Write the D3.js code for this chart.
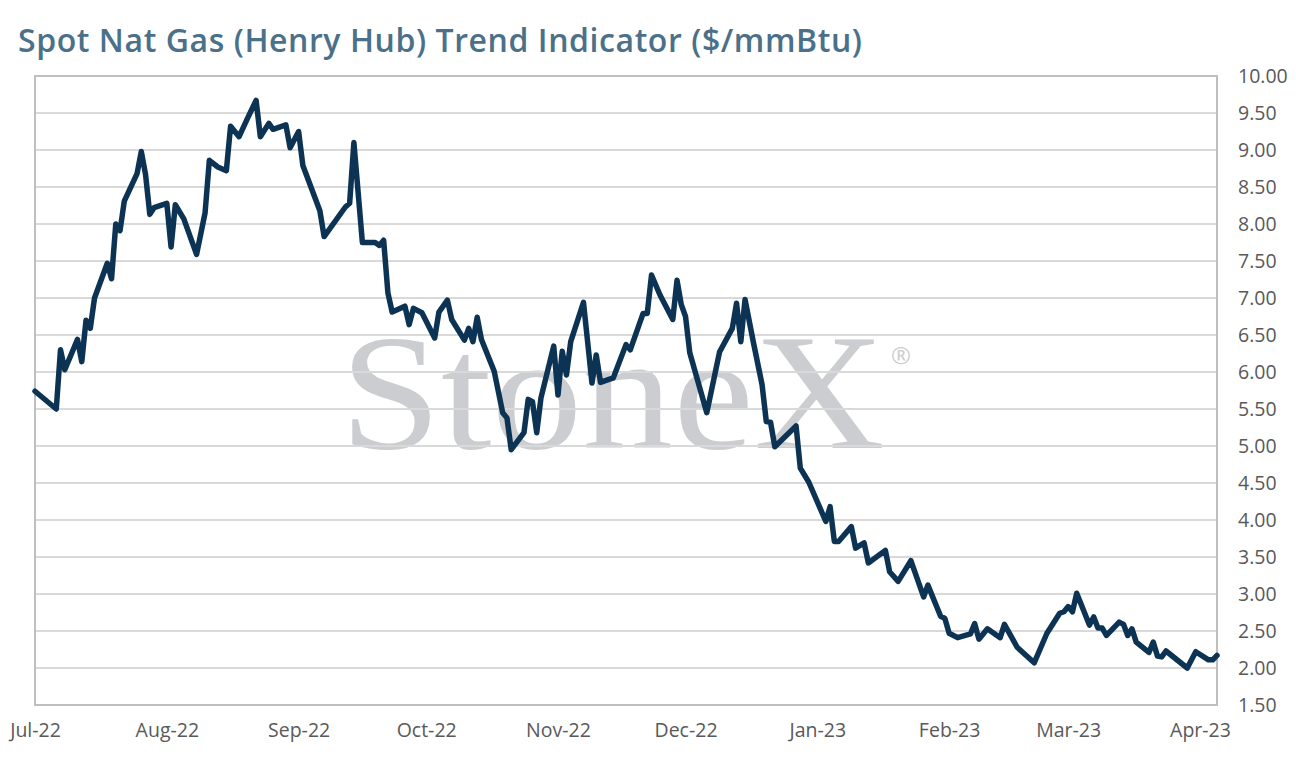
<!DOCTYPE html>
<meta charset="utf-8">
<script src="https://d3js.org/d3.v7.min.js"></script>
<style>
  body { margin: 0; background: #fff; }
  text { font-family: "Open Sans", "DejaVu Sans", sans-serif; }
</style>
<div id="chart"></div>
<script>

// daily spot values
var dates = [
  "2022-07-01","2022-07-06","2022-07-07","2022-07-08","2022-07-11","2022-07-12","2022-07-13","2022-07-14","2022-07-15",
  "2022-07-18","2022-07-19","2022-07-20","2022-07-21","2022-07-22","2022-07-25","2022-07-26","2022-07-27","2022-07-28","2022-07-29",
  "2022-08-01","2022-08-02","2022-08-03","2022-08-05","2022-08-08","2022-08-10","2022-08-11","2022-08-13","2022-08-15","2022-08-16",
  "2022-08-18","2022-08-20","2022-08-22","2022-08-23","2022-08-25","2022-08-26","2022-08-29","2022-08-30",
  "2022-09-01","2022-09-02","2022-09-06","2022-09-07","2022-09-12","2022-09-13","2022-09-14","2022-09-16","2022-09-19","2022-09-20",
  "2022-09-21","2022-09-22","2022-09-23","2022-09-26","2022-09-27","2022-09-28","2022-09-30",
  "2022-10-03","2022-10-04","2022-10-06","2022-10-07","2022-10-10","2022-10-11","2022-10-12","2022-10-13","2022-10-14","2022-10-17",
  "2022-10-19","2022-10-20","2022-10-21","2022-10-24","2022-10-25","2022-10-26","2022-10-27","2022-10-28","2022-10-31",
  "2022-11-01","2022-11-02","2022-11-03","2022-11-04","2022-11-07","2022-11-09","2022-11-10","2022-11-11","2022-11-14","2022-11-17",
  "2022-11-18","2022-11-21","2022-11-22","2022-11-23","2022-11-25","2022-11-28","2022-11-29","2022-11-30",
  "2022-12-01","2022-12-02","2022-12-06","2022-12-09","2022-12-12","2022-12-13","2022-12-14","2022-12-15","2022-12-17","2022-12-19",
  "2022-12-20","2022-12-21","2022-12-22","2022-12-27","2022-12-28","2022-12-30",
  "2023-01-03","2023-01-04","2023-01-05","2023-01-06","2023-01-09","2023-01-10","2023-01-12","2023-01-13","2023-01-17","2023-01-18",
  "2023-01-20","2023-01-23","2023-01-26","2023-01-27","2023-01-30","2023-01-31",
  "2023-02-01","2023-02-03","2023-02-06","2023-02-07","2023-02-08","2023-02-10","2023-02-13","2023-02-14","2023-02-17","2023-02-21",
  "2023-02-24","2023-02-27","2023-02-28",
  "2023-03-01","2023-03-02","2023-03-03","2023-03-06","2023-03-07","2023-03-08","2023-03-09","2023-03-10","2023-03-13","2023-03-14",
  "2023-03-15","2023-03-16","2023-03-17","2023-03-20","2023-03-21","2023-03-22","2023-03-23","2023-03-24","2023-03-29","2023-03-31",
  "2023-04-03","2023-04-04","2023-04-05"
]
var prices = [
  5.74,5.50,6.30,6.03,6.44,6.14,6.70,6.59,7.00,
  7.47,7.26,8.00,7.91,8.31,8.68,8.98,8.67,8.13,8.22,
  8.28,7.69,8.26,8.07,7.59,8.15,8.86,8.77,8.72,9.32,
  9.18,9.43,9.67,9.18,9.36,9.28,9.34,9.03,
  9.25,8.79,8.18,7.83,8.23,8.28,9.10,7.75,7.75,7.71,
  7.78,7.07,6.81,6.89,6.64,6.86,6.80,
  6.46,6.81,6.97,6.71,6.43,6.59,6.41,6.74,6.44,6.01,
  5.45,5.38,4.95,5.18,5.63,5.60,5.18,5.65,6.35,
  5.69,6.28,5.96,6.41,6.94,5.85,6.23,5.86,5.92,6.37,
  6.30,6.79,6.79,7.31,7.04,6.71,7.24,6.91,
  6.75,6.26,5.45,6.27,6.59,6.93,6.41,6.98,6.39,5.83,
  5.33,5.32,4.99,5.27,4.70,4.51,
  3.98,4.18,3.71,3.71,3.91,3.62,3.69,3.42,3.59,3.30,
  3.17,3.45,2.96,3.12,2.70,2.67,
  2.47,2.41,2.46,2.60,2.39,2.53,2.41,2.59,2.28,2.07,
  2.47,2.74,2.76,
  2.83,2.76,3.01,2.58,2.69,2.54,2.54,2.44,2.62,2.59,
  2.44,2.53,2.35,2.21,2.35,2.16,2.15,2.23,2.00,2.22,
  2.11,2.11,2.17
]

var monthTicks = ["2022-07-01","2022-08-01","2022-09-01","2022-10-01","2022-11-01","2022-12-01",
                  "2023-01-01","2023-02-01","2023-03-01","2023-04-01"]
var yTicks = [1.5,2,2.5,3,3.5,4,4.5,5,5.5,6,6.5,7,7.5,8,8.5,9,9.5,10]

var titleText = "Spot Nat Gas (Henry Hub) Trend Indicator ($/mmBtu)"

var width = 1296, height = 766
var plotLeft = 35, plotRight = 1217, plotTop = 76, plotBottom = 705

var parse = d3.timeParse("%Y-%m-%d")
var data = dates.map(function(d, i){ return { date: parse(d), value: prices[i] } })

var svg = d3.select("#chart")
  .append("svg")
  .attr("width", width)
  .attr("height", height)

var x = d3.scaleTime()
  .domain(d3.extent(data, function(d){ return d.date }))
  .range([plotLeft, plotRight])

var y = d3.scaleLinear()
  .domain([1.5, 10])
  .range([plotBottom, plotTop])

// title
svg.append("text")
  .attr("x", 18)
  .attr("y", 52)
  .attr("textLength", 844)
  .style("font-size", "32px")
  .style("font-weight", 600)
  .style("fill", "#4b7089")
  .text(titleText)

// watermark, sits under the grid
var wm = svg.append("g").style("fill", "#cbcdd0")
wm.append("text")
  .attr("x", 340)
  .attr("y", 448)
  .attr("textLength", 545)
  .attr("lengthAdjust", "spacingAndGlyphs")
  .style("font-family", "'Liberation Serif', 'DejaVu Serif', serif")
  .style("font-size", "165px")
  .text("StoneX")
wm.append("text")
  .attr("x", 891)
  .attr("y", 364)
  .style("font-size", "24px")
  .text("®")

// gridlines
svg.append("g")
  .selectAll("line")
  .data(yTicks)
  .enter()
  .append("line")
    .attr("x1", plotLeft)
    .attr("x2", plotRight)
    .attr("y1", function(d){ return y(d) })
    .attr("y2", function(d){ return y(d) })
    .style("stroke", "#d9d9d9")
    .style("stroke-width", 2)

// plot frame
svg.append("rect")
  .attr("x", plotLeft)
  .attr("y", plotTop)
  .attr("width", plotRight - plotLeft)
  .attr("height", plotBottom - plotTop)
  .style("fill", "none")
  .style("stroke", "#bfbfbf")
  .style("stroke-width", 2)

// right axis
var yAxis = svg.append("g")
  .attr("transform", "translate(" + plotRight + ",0)")
  .call(d3.axisRight(y).tickValues(yTicks).tickFormat(d3.format(".2f")).tickSize(0).tickPadding(21))
yAxis.select(".domain").remove()
yAxis.selectAll("text")
  .style("font-family", "'Open Sans', sans-serif")
  .style("font-size", "19.5px")
  .style("fill", "#595959")

// bottom axis
var xAxis = svg.append("g")
  .attr("transform", "translate(0," + plotBottom + ")")
  .call(d3.axisBottom(x).tickValues(monthTicks.map(parse)).tickFormat(d3.timeFormat("%b-%y")).tickSize(0).tickPadding(18))
xAxis.select(".domain").remove()
xAxis.selectAll("text")
  .style("font-family", "'Open Sans', sans-serif")
  .style("font-size", "19.5px")
  .style("fill", "#595959")

// price line
var line = d3.line()
  .x(function(d){ return x(d.date) })
  .y(function(d){ return y(d.value) })

svg.append("path")
  .datum(data)
  .attr("d", line)
  .style("fill", "none")
  .style("stroke", "#0c3354")
  .style("stroke-width", 5.5)
  .style("stroke-linejoin", "round")
  .style("stroke-linecap", "round")

</script>
